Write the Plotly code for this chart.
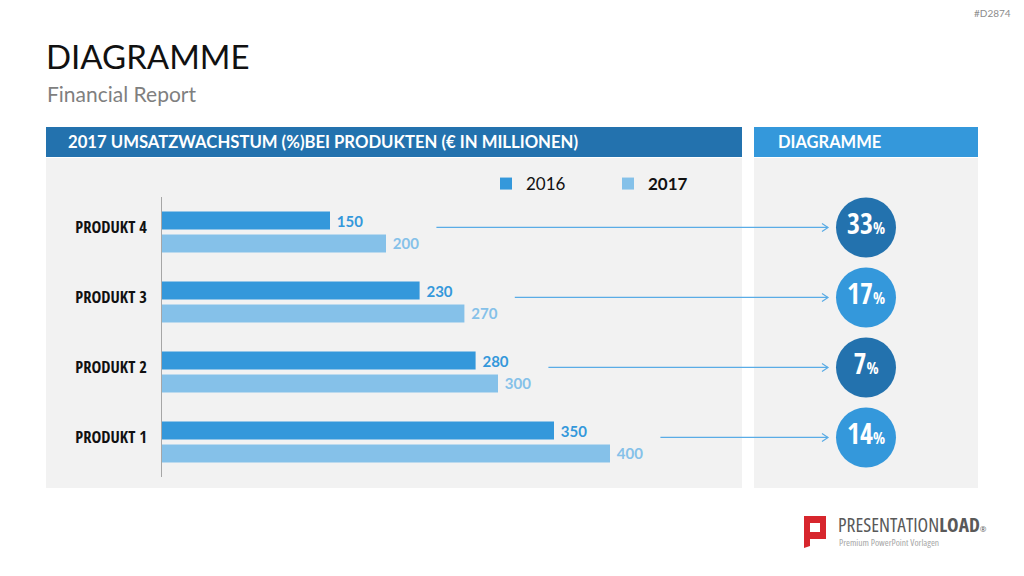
import plotly.graph_objects as go

# ---- data ----
categories = ["PRODUKT 4", "PRODUKT 3", "PRODUKT 2", "PRODUKT 1"]
values_2016 = [150, 230, 280, 350]
values_2017 = [200, 270, 300, 400]
growth_pct = [33, 17, 7, 14]
series_names = ["2016", "2017"]

# ---- styling ----
W, H = 1024, 576
C_DARK = "#2372AE"
C_MED = "#3498DB"
C_LIGHT = "#85C1E9"
C_ARROW = "#5AACE6"
C_PANEL = "#F2F2F2"
COND = "Open Sans Condensed, Roboto Condensed, sans-serif"
SANS = "Lato, Open Sans, sans-serif"
circle_colors = [C_DARK, C_MED, C_DARK, C_MED]


def px(x):
    return x / W


def py(y):
    return 1 - y / H


PX_PER_UNIT = 1.12
AX_LEFT, AX_RIGHT = 162, 978

fig = go.Figure()
fig.add_trace(go.Bar(
    y=categories, x=values_2016, orientation="h", name=series_names[0],
    marker=dict(color=C_MED, line=dict(width=0)),
    texttemplate="\u00a0<b>%{x}</b>", textposition="outside", cliponaxis=False,
    constraintext="none",
    textfont=dict(color=C_MED, size=15, family=SANS),
))
fig.add_trace(go.Bar(
    y=categories, x=values_2017, orientation="h", name="<b>" + series_names[1] + "</b>",
    marker=dict(color=C_LIGHT, line=dict(width=0)),
    texttemplate="\u00a0<b>%{x}</b>", textposition="outside", cliponaxis=False,
    constraintext="none",
    textfont=dict(color=C_LIGHT, size=15, family=SANS),
))

# circles with growth percentages
pos = [i - 0.065 for i in range(len(categories))]
fig.add_trace(go.Scatter(
    x=[0.5] * len(growth_pct), y=pos, xaxis="x2", yaxis="y2",
    mode="markers+text",
    marker=dict(size=60, color=circle_colors, line=dict(width=0)),
    text=[f"<b>{g}</b><span style='font-size:16px'>%</span>" for g in growth_pct],
    textposition="middle center",
    textfont=dict(color="white", size=28, family=COND),
    showlegend=False, hoverinfo="skip", cliponaxis=False,
))

x_range_max = (AX_RIGHT - AX_LEFT) / PX_PER_UNIT
arrow_end = (828 - AX_LEFT) / PX_PER_UNIT

shapes = []
# background panels
shapes += [
    dict(type="rect", xref="paper", yref="paper", x0=px(46), x1=px(742), y0=py(157), y1=py(127),
         fillcolor=C_DARK, line=dict(width=0), layer="below"),
    dict(type="rect", xref="paper", yref="paper", x0=px(46), x1=px(742), y0=py(488), y1=py(158),
         fillcolor=C_PANEL, line=dict(width=0), layer="below"),
    dict(type="rect", xref="paper", yref="paper", x0=px(754), x1=px(978), y0=py(157), y1=py(127),
         fillcolor=C_MED, line=dict(width=0), layer="below"),
    dict(type="rect", xref="paper", yref="paper", x0=px(754), x1=px(978), y0=py(488), y1=py(158),
         fillcolor=C_PANEL, line=dict(width=0), layer="below"),
]
# arrows
for i, v in enumerate(values_2017):
    shapes.append(dict(type="line", xref="x", yref="y2", x0=v + 45, x1=arrow_end,
                       y0=pos[i], y1=pos[i], line=dict(color=C_ARROW, width=1.2)))
    shapes.append(dict(type="path", xref="x", yref="y2", xsizemode="pixel", ysizemode="pixel",
                       xanchor=arrow_end, yanchor=pos[i], path="M-6,-4 L0,0 L-6,4",
                       line=dict(color=C_ARROW, width=1.2)))

# logo icon
def pth(points):
    s = "M" + " L".join(f"{px(x)},{py(y)}" for x, y in points)
    return s + " Z"

shapes.append(dict(type="path", xref="paper", yref="paper",
                   path=pth([(804, 516), (826, 516), (826, 539), (810, 539), (810, 546), (804, 548)]),
                   fillcolor="#D7262D", line=dict(width=0)))
shapes.append(dict(type="rect", xref="paper", yref="paper", x0=px(810), x1=px(820),
                   y0=py(532), y1=py(523), fillcolor="white", line=dict(width=0)))

annotations = [
    dict(x=px(44), y=py(56), xref="paper", yref="paper", xanchor="left", yanchor="middle",
         text="DIAGRAMME", showarrow=False, font=dict(size=33, color="#111111", family=SANS)),
    dict(x=px(45), y=py(94), xref="paper", yref="paper", xanchor="left", yanchor="middle",
         text="Financial Report", showarrow=False, font=dict(size=21, color="#7F7F7F", family=SANS)),
    dict(x=px(66), y=py(142), xref="paper", yref="paper", xanchor="left", yanchor="middle",
         text="<b>2017 UMSATZWACHSTUM (%)BEI PRODUKTEN (€ IN MILLIONEN)</b>", showarrow=False,
         font=dict(size=16.7, color="white", family=SANS)),
    dict(x=px(776), y=py(142), xref="paper", yref="paper", xanchor="left", yanchor="middle",
         text="<b>DIAGRAMME</b>", showarrow=False, font=dict(size=16.5, color="white", family=SANS)),
    dict(x=px(1013), y=py(13), xref="paper", yref="paper", xanchor="right", yanchor="middle",
         text="#D2874", showarrow=False, font=dict(size=10, color="#8C8C8C", family=SANS)),
    dict(x=px(836), y=py(524), xref="paper", yref="paper", xanchor="left", yanchor="middle",
         text="<span style='font-stretch:condensed'>PRESENTATION<b>LOAD</b></span>"
              "<span style='font-size:8px'>®</span>", showarrow=False,
         font=dict(size=19.5, color="#595959", family="Open Sans")),
    dict(x=px(837), y=py(542), xref="paper", yref="paper", xanchor="left", yanchor="middle",
         text="<span style='font-stretch:condensed'>Premium PowerPoint Vorlagen</span>", showarrow=False,
         font=dict(size=9.5, color="#A6A6A6", family="Open Sans")),
]

fig.update_layout(
    width=W, height=H, margin=dict(l=0, r=0, t=0, b=0),
    paper_bgcolor="white", plot_bgcolor="rgba(0,0,0,0)",
    barmode="group", bargap=0.343, bargroupgap=0.217,
    xaxis=dict(domain=[px(AX_LEFT), px(AX_RIGHT)], range=[0, x_range_max], visible=False,
               fixedrange=True),
    yaxis=dict(domain=[py(477), py(197)], autorange="reversed", showline=True,
               linecolor="#A6A6A6", linewidth=1, showgrid=False, zeroline=False,
               ticks="", showticklabels=False, automargin=False),
    xaxis2=dict(domain=[px(754), px(978)], range=[0, 1], visible=False, anchor="y2"),
    yaxis2=dict(overlaying="y", range=[3.5, -0.5], anchor="x", side="left",
                showline=False, showgrid=False, zeroline=False, ticks="",
                tickmode="array", tickvals=pos, ticktext=categories,
                ticklabelstandoff=14, automargin=False,
                tickfont=dict(size=16.5, color="#111111", family=COND),
                tickprefix="<b>", ticksuffix="</b>"),
    legend=dict(orientation="h", x=px(486), y=py(184), xanchor="left", yanchor="middle",
                bgcolor="rgba(0,0,0,0)", font=dict(size=17, color="#111111", family=SANS),
                entrywidth=77, entrywidthmode="pixels", itemwidth=30, traceorder="normal"),
    shapes=shapes, annotations=annotations,
)

fig.write_html("out.html")
